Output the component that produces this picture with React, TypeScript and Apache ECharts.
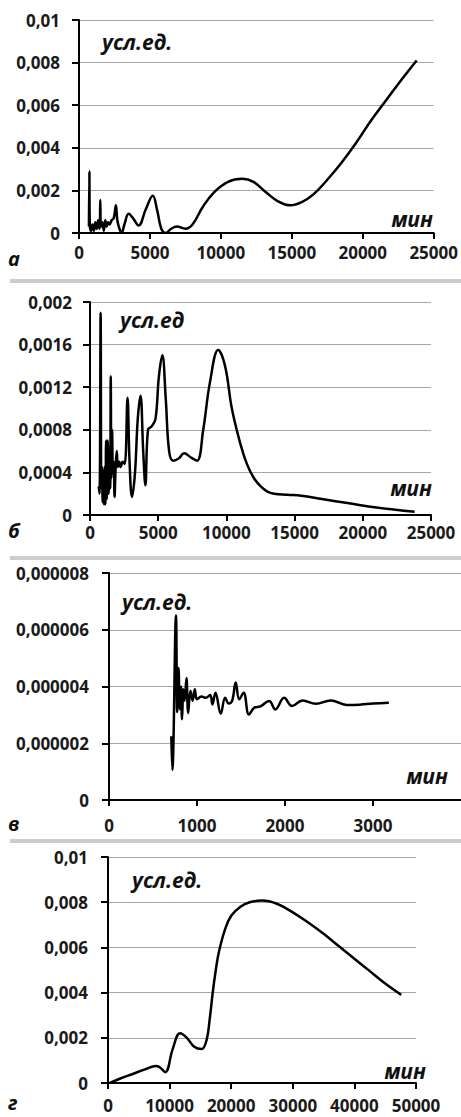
import React, { useEffect, useRef } from "react";
import * as echarts from "echarts";

// Panel а
const aX = [700, 730, 760, 850, 950, 1050, 1150, 1250, 1350, 1450, 1500, 1550, 1650, 1750, 1850, 1950, 2050, 2150, 2300, 2450, 2600, 2700, 2850, 3000, 3200, 3500, 3800, 4200, 4700, 5200, 5500, 5800, 6100, 6500, 6900, 7500, 8000, 8700, 9500, 10500, 11500, 12300, 13200, 14000, 14900, 15700, 16500, 17500, 18500, 19500, 20500, 21500, 22500, 23800];
const aY = [0.0003, 0.0029, 0.0004, 0.0001, 0.0004, 0.0001, 0.0005, 0.0002, 0.0006, 0.0002, 0.00155, 0.0003, 0.0005, 0.0001, 0.0006, 0.0003, 0.0005, 0.0004, 0.0006, 0.0007, 0.0013, 0.0006, 0.0002, 0.0, 0.0004, 0.0009, 0.0007, 0.00035, 0.0011, 0.00175, 0.0011, 0.0002, 0.0, 0.0002, 0.0003, 0.0002, 0.0004, 0.0012, 0.0019, 0.0024, 0.00255, 0.0024, 0.0019, 0.0015, 0.0013, 0.00145, 0.0018, 0.0025, 0.0033, 0.0042, 0.0052, 0.0061, 0.007, 0.0081];

// Panel б
const bX = [640, 700, 780, 830, 880, 930, 980, 1030, 1080, 1130, 1180, 1230, 1300, 1360, 1420, 1480, 1520, 1570, 1620, 1680, 1740, 1800, 1880, 1960, 2050, 2150, 2250, 2400, 2550, 2750, 2900, 3080, 3300, 3500, 3700, 3900, 4060, 4250, 4500, 4800, 5050, 5300, 5550, 5800, 6100, 6500, 6900, 7400, 7850, 8300, 8800, 9400, 9900, 10400, 11000, 11500, 12000, 12500, 13000, 13500, 14500, 15500, 17000, 19000, 21000, 23800];
const bY = [0.00027, 0.0002, 0.0019, 0.00025, 0.00045, 0.00012, 0.0004, 0.0001, 0.00045, 0.0001, 0.0007, 0.00015, 0.0007, 0.0002, 0.0005, 0.00025, 0.0013, 0.00035, 0.0008, 0.0004, 0.0005, 0.00017, 0.00045, 0.0006, 0.00045, 0.0005, 0.00045, 0.0005, 0.00048, 0.0011, 0.0005, 0.00017, 0.0004, 0.0009, 0.00112, 0.0006, 0.00028, 0.0008, 0.00083, 0.0009, 0.0013, 0.0015, 0.0011, 0.0006, 0.00051, 0.00053, 0.00058, 0.00054, 0.00051, 0.0008, 0.00125, 0.00155, 0.0014, 0.001, 0.00068, 0.00048, 0.00035, 0.00027, 0.00022, 0.0002, 0.00019, 0.00018, 0.00015, 0.00011, 0.00007, 0.00003];

// Panel в
const vX = [708, 720, 761, 775, 790, 805, 818, 830, 845, 860, 880, 900, 925, 950, 975, 1000, 1050, 1100, 1150, 1175, 1210, 1270, 1320, 1360, 1400, 1440, 1480, 1530, 1590, 1650, 1720, 1820, 1890, 1990, 2080, 2200, 2350, 2520, 2700, 2850, 3000, 3180];
const vY = [0.00000225, 0.00000106, 0.0000065, 0.0000031, 0.00000465, 0.0000032, 0.000004, 0.00000285, 0.0000039, 0.0000035, 0.0000043, 0.00000307, 0.00000385, 0.0000035, 0.0000039, 0.00000355, 0.00000365, 0.0000036, 0.0000037, 0.00000337, 0.00000378, 0.00000304, 0.0000036, 0.0000034, 0.0000035, 0.00000414, 0.00000355, 0.00000378, 0.00000301, 0.00000325, 0.0000033, 0.00000349, 0.00000319, 0.0000036, 0.00000331, 0.00000351, 0.00000339, 0.00000351, 0.00000335, 0.00000336, 0.0000034, 0.00000343];

// Panel г
const gX = [300, 2000, 4000, 6000, 7800, 8400, 9300, 10500, 11700, 12800, 14000, 15200, 16000, 16500, 17000, 17500, 18000, 19000, 20000, 21500, 23000, 25000, 27500, 30000, 32500, 35000, 37500, 40000, 42500, 45000, 47600];
const gY = [0, 0.0002, 0.0004, 0.0006, 0.00075, 0.0007, 0.00048, 0.0015, 0.0022, 0.002, 0.0016, 0.0015, 0.0019, 0.0028, 0.004, 0.005, 0.0058, 0.0068, 0.0074, 0.0078, 0.008, 0.00807, 0.00792, 0.00755, 0.0071, 0.0066, 0.00605, 0.0055, 0.00495, 0.0044, 0.0039];

const panelLetters = ["а", "б", "в", "г"];
const unitLabels = ["усл.ед.", "усл.ед", "усл.ед.", "усл.ед."];
const xUnit = "мин";

const FONT = '"Open Sans", "DejaVu Sans", sans-serif';

const fmt = (v: number) => {
  const s = Number(v).toFixed(7).replace(/\.?0+$/, "");
  return s.replace(".", ",");
};

const zip = (xs: number[], ys: number[]) => xs.map((x, i) => [x, ys[i]]);

export default function App() {
  const ref = useRef<HTMLDivElement>(null);
  useEffect(() => {
    if (!ref.current) return;
    const chart = echarts.init(ref.current, null, { renderer: "svg" });

    const grids = [
      { left: 79, top: 20, width: 355, height: 213 },
      { left: 90, top: 302, width: 341, height: 213 },
      { left: 109, top: 573, width: 352, height: 227 },
      { left: 108, top: 857, width: 308, height: 226 },
    ];
    const xCfg = [
      { max: 25000, interval: 5000, margin: 11, showMax: true },
      { max: 25000, interval: 5000, margin: 9, showMax: true },
      { max: 4000, interval: 1000, margin: 17, showMax: false },
      { max: 50000, interval: 10000, margin: 14, showMax: true },
    ];
    const yCfg = [
      { max: 0.01, interval: 0.002, margin: 19 },
      { max: 0.002, interval: 0.0004, margin: 18 },
      { max: 0.000008, interval: 0.000002, margin: 20 },
      { max: 0.01, interval: 0.002, margin: 20 },
    ];
    const datas = [zip(aX, aY), zip(bX, bY), zip(vX, vY), zip(gX, gY)];

    const labelStyle = {
      color: "#1a1a1a",
      fontFamily: FONT,
      fontWeight: "bold" as const,
      fontSize: 17,
    };

    const unitPos = [
      { x: 102, y: 42, mx: 433, my: 219, lx: 8, ly: 258 },
      { x: 120, y: 320, mx: 432, my: 488, lx: 8, ly: 530 },
      { x: 122, y: 602, mx: 448, my: 776, lx: 8, ly: 823 },
      { x: 132, y: 880, mx: 426, my: 1071, lx: 8, ly: 1102 },
    ];

    const graphics: any[] = [];
    unitPos.forEach((p, i) => {
      graphics.push({
        type: "text",
        x: p.x,
        y: p.y,
        style: {
          text: unitLabels[i],
          font: `italic bold 21px ${FONT}`,
          fill: "#111",
          textAlign: "left",
          textVerticalAlign: "middle",
        },
      });
      graphics.push({
        type: "text",
        x: p.mx,
        y: p.my,
        style: {
          text: xUnit,
          font: `italic bold 21px ${FONT}`,
          fill: "#111",
          textAlign: "right",
          textVerticalAlign: "middle",
        },
      });
      graphics.push({
        type: "text",
        x: p.lx,
        y: p.ly,
        style: {
          text: panelLetters[i],
          font: `italic bold 20px ${FONT}`,
          fill: "#111",
          textAlign: "left",
          textVerticalAlign: "middle",
        },
      });
    });
    [280, 557, 840].forEach((y) => {
      [0, 2].forEach((d) => {
        graphics.push({
          type: "line",
          shape: { x1: 10, y1: y + d, x2: 461, y2: y + d },
          style: { stroke: "#9a9a9a", lineWidth: 1 },
        });
      });
    });

    chart.setOption({
      animation: false,
      backgroundColor: "#ffffff",
      grid: grids.map((g) => ({ ...g, containLabel: false })),
      xAxis: xCfg.map((c, i) => ({
        type: "value",
        gridIndex: i,
        min: 0,
        max: c.max,
        interval: c.interval,
        axisLine: { show: true, onZero: false, lineStyle: { color: "#000", width: 2 } },
        axisTick: { show: true, length: 6, lineStyle: { color: "#000", width: 2 } },
        splitLine: { show: false },
        axisLabel: {
          ...labelStyle,
          margin: c.margin,
          showMaxLabel: c.showMax,
          showMinLabel: true,
          formatter: (v: number) => String(v),
        },
      })),
      yAxis: yCfg.map((c, i) => ({
        type: "value",
        gridIndex: i,
        min: 0,
        max: c.max,
        interval: c.interval,
        axisLine: { show: true, lineStyle: { color: "#000", width: 2 } },
        axisTick: { show: true, length: 7, lineStyle: { color: "#000", width: 2 } },
        splitLine: { show: true, lineStyle: { color: "#a6a6a6", width: 1 } },
        axisLabel: { ...labelStyle, margin: c.margin, formatter: (v: number) => fmt(v) },
      })),
      series: datas.map((d, i) => ({
        type: "line",
        xAxisIndex: i,
        yAxisIndex: i,
        data: d,
        smooth: 0.4,
        showSymbol: false,
        symbol: "none",
        lineStyle: { color: "#000", width: 2.5 },
      })),
      graphic: graphics,
    });

    return () => chart.dispose();
  }, []);

  return (
    <div
      ref={ref}
      style={{ position: "absolute", left: 0, top: 0, width: 461, height: 1117, background: "#fff" }}
    />
  );
}
